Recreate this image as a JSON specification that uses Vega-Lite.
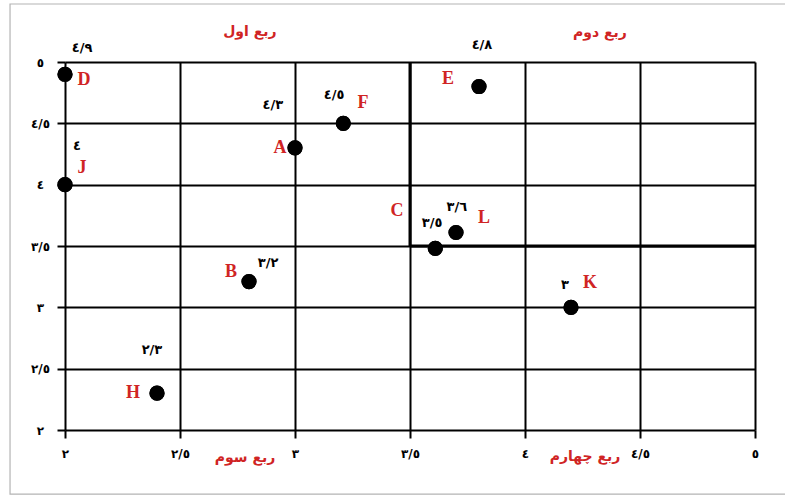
{
  "$schema": "https://vega.github.io/schema/vega-lite/v6.json",
  "width": 690,
  "height": 368,
  "autosize": {"type": "none"},
  "padding": {"left": 65, "top": 62, "right": 30, "bottom": 67},
  "background": "white",
  "config": {
    "view": {"stroke": null},
    "axis": {
      "grid": true,
      "gridColor": "black",
      "gridWidth": 2,
      "gridOpacity": 1,
      "domain": false,
      "ticks": true,
      "tickColor": "black",
      "tickWidth": 2,
      "tickSize": 8,
      "labelFont": "DejaVu Sans",
      "labelFontWeight": "bold",
      "labelFontSize": 12,
      "labelColor": "black",
      "labelFlush": false,
      "labelOverlap": false,
      "labelBound": false
    },
    "axisX": {"labelPadding": 10},
    "axisY": {"labelPadding": 17, "labelAlign": "center", "labelBaseline": "middle"}
  },
  "datasets": {
    "frame": [{"fx": 1.761, "fx2": 5.25, "fy": 1.478, "fy2": 5.473}],
    "quads": [
      {"x": 3.5, "x2": 3.5, "y": 3.5, "y2": 5},
      {"x": 3.5, "x2": 5, "y": 3.5, "y2": 3.5}
    ],
    "points": [
      {"name": "D", "x": 2, "y": 4.9, "val": "٤/٩", "vx": 2.074, "vy": 5.114, "lx": 2.083, "ly": 4.853},
      {"name": "J", "x": 2, "y": 4.0, "val": "٤", "vx": 2.052, "vy": 4.315, "lx": 2.074, "ly": 4.136},
      {"name": "A", "x": 3, "y": 4.3, "val": "٤/٣", "vx": 2.904, "vy": 4.649, "lx": 2.935, "ly": 4.299},
      {"name": "F", "x": 3.21, "y": 4.5, "val": "٤/٥", "vx": 3.17, "vy": 4.731, "lx": 3.296, "ly": 4.666},
      {"name": "E", "x": 3.8, "y": 4.8, "val": "٤/٨", "vx": 3.813, "vy": 5.138, "lx": 3.665, "ly": 4.861},
      {"name": "C", "x": 3.61, "y": 3.48, "val": "٣/٥", "vx": 3.596, "vy": 3.687, "lx": 3.443, "ly": 3.785},
      {"name": "L", "x": 3.7, "y": 3.61, "val": "٣/٦", "vx": 3.704, "vy": 3.818, "lx": 3.822, "ly": 3.728},
      {"name": "B", "x": 2.8, "y": 3.21, "val": "٣/٢", "vx": 2.883, "vy": 3.361, "lx": 2.722, "ly": 3.288},
      {"name": "H", "x": 2.4, "y": 2.3, "val": "٢/٣", "vx": 2.378, "vy": 2.652, "lx": 2.296, "ly": 2.302},
      {"name": "K", "x": 4.2, "y": 3.0, "val": "٣", "vx": 4.174, "vy": 3.182, "lx": 4.283, "ly": 3.198}
    ],
    "quadLabels": [
      {"label": "ربع اول", "qx": 2.804, "qy": 5.244},
      {"label": "ربع دوم", "qx": 4.326, "qy": 5.236},
      {"label": "ربع سوم", "qx": 2.783, "qy": 1.772},
      {"label": "ربع چهارم", "qx": 4.261, "qy": 1.78}
    ]
  },
  "layer": [
    {
      "data": {"name": "points"},
      "mark": {"type": "circle", "size": 230, "color": "black", "opacity": 1},
      "encoding": {
        "x": {
          "field": "x", "type": "quantitative", "title": null,
          "scale": {"domain": [2, 5], "nice": false, "zero": false},
          "axis": {
            "values": [2, 2.5, 3, 3.5, 4, 4.5, 5],
            "format": ".1~f",
            "labelExpr": "replace(replace(replace(replace(replace(datum.label,'.','/'),'2','٢'),'3','٣'),'4','٤'),'5','٥')"
          }
        },
        "y": {
          "field": "y", "type": "quantitative", "title": null,
          "scale": {"domain": [2, 5], "nice": false, "zero": false},
          "axis": {
            "values": [2, 2.5, 3, 3.5, 4, 4.5, 5],
            "format": ".1~f",
            "labelExpr": "replace(replace(replace(replace(replace(datum.label,'.','/'),'2','٢'),'3','٣'),'4','٤'),'5','٥')"
          }
        }
      }
    },
    {
      "data": {"name": "frame"},
      "mark": {"type": "rect", "fill": null, "fillOpacity": 0, "stroke": "#b4b4b4", "strokeWidth": 1.2},
      "encoding": {
        "x": {"field": "fx", "type": "quantitative", "title": null, "scale": {"domain": [2, 5], "nice": false, "zero": false}},
        "x2": {"field": "fx2"},
        "y": {"field": "fy", "type": "quantitative", "title": null, "scale": {"domain": [2, 5], "nice": false, "zero": false}},
        "y2": {"field": "fy2"}
      }
    },
    {
      "data": {"name": "quads"},
      "mark": {"type": "rule", "color": "black", "strokeWidth": 3},
      "encoding": {
        "x": {"field": "x", "type": "quantitative", "title": null, "scale": {"domain": [2, 5], "nice": false, "zero": false}},
        "x2": {"field": "x2"},
        "y": {"field": "y", "type": "quantitative", "title": null, "scale": {"domain": [2, 5], "nice": false, "zero": false}},
        "y2": {"field": "y2"}
      }
    },
    {
      "data": {"name": "points"},
      "mark": {"type": "circle", "size": 230, "color": "black", "opacity": 1},
      "encoding": {
        "x": {"field": "x", "type": "quantitative", "title": null, "scale": {"domain": [2, 5], "nice": false, "zero": false}},
        "y": {"field": "y", "type": "quantitative", "title": null, "scale": {"domain": [2, 5], "nice": false, "zero": false}}
      }
    },
    {
      "data": {"name": "points"},
      "mark": {"type": "text", "font": "DejaVu Sans", "fontWeight": "bold", "fontSize": 13, "color": "black", "align": "center", "baseline": "middle"},
      "encoding": {
        "x": {"field": "vx", "type": "quantitative", "title": null, "scale": {"domain": [2, 5], "nice": false, "zero": false}},
        "y": {"field": "vy", "type": "quantitative", "title": null, "scale": {"domain": [2, 5], "nice": false, "zero": false}},
        "text": {"field": "val"}
      }
    },
    {
      "data": {"name": "points"},
      "mark": {"type": "text", "font": "Liberation Serif", "fontWeight": "bold", "fontSize": 18, "color": "#d02424", "align": "center", "baseline": "middle"},
      "encoding": {
        "x": {"field": "lx", "type": "quantitative", "title": null, "scale": {"domain": [2, 5], "nice": false, "zero": false}},
        "y": {"field": "ly", "type": "quantitative", "title": null, "scale": {"domain": [2, 5], "nice": false, "zero": false}},
        "text": {"field": "name"}
      }
    },
    {
      "data": {"name": "quadLabels"},
      "mark": {"type": "text", "font": "DejaVu Sans", "fontWeight": "bold", "fontSize": 14, "color": "#d02424", "align": "center", "baseline": "middle"},
      "encoding": {
        "x": {"field": "qx", "type": "quantitative", "title": null, "scale": {"domain": [2, 5], "nice": false, "zero": false}},
        "y": {"field": "qy", "type": "quantitative", "title": null, "scale": {"domain": [2, 5], "nice": false, "zero": false}},
        "text": {"field": "label"}
      }
    }
  ]
}
